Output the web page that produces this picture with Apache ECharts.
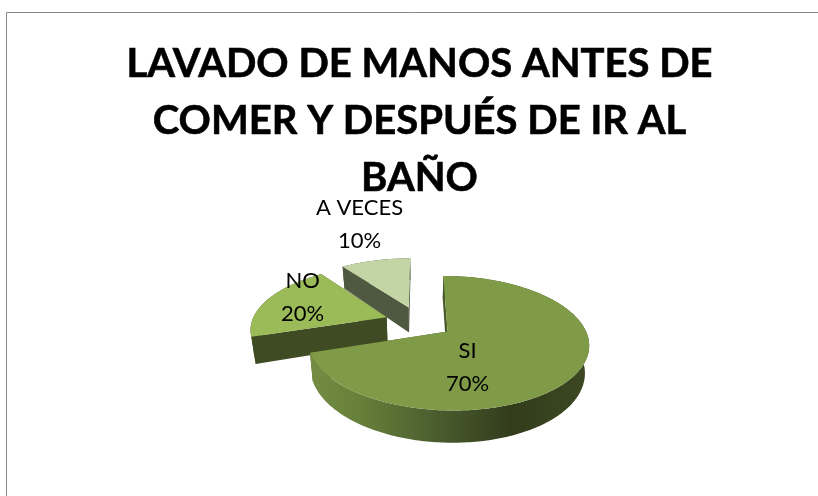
<!DOCTYPE html>
<html>
<head>
<meta charset="utf-8">
<style>html,body{margin:0;padding:0;background:#fff}#chart{width:818px;height:496px}</style>
<script src="https://cdn.jsdelivr.net/npm/echarts@6/dist/echarts.min.js"></script>
</head>
<body>
<div id="chart"></div>
<script>
// Hand-washing survey answers, shown as an exploded pie with perspective.
const categories = ['SI', 'NO', 'A VECES'];
const shares = [70, 20, 10];
const chartTitle = 'LAVADO DE MANOS ANTES DE\nCOMER Y DESPUÉS DE IR AL\nBAÑO';

// Per-slice face colours and label spots on the pie's ground plane (radius = 1).
const topColors = ['#7f9b48', '#9bbb59', '#c3d5a4'];
const sideColors = ['#4a5a28', '#3f4b22', '#4f5841'];
const labelSpots = [[0.32, -0.65], [-0.925, 0.43], [-0.60, 2.14]];

// Ground plane to screen projection.
const view = {ox: 419, oy: 322, sx: 135, sz: 62, persp: 0.169, depth: 26, taper: 0.025, explode: 0.255};

function project(x, z, lowered) {
  const f = 1 / (1 + view.persp * z);
  let px = view.ox + view.sx * x * f;
  let py = view.oy - view.sz * z * f;
  if (lowered) {
    px = view.ox + (px - view.ox) * (1 - view.taper);
    py += view.depth * f;
  }
  return [px, py];
}

const total = shares.reduce((a, b) => a + b, 0);

function renderSlice(params, api) {
  const i = params.dataIndex;
  let before = 0;
  for (let k = 0; k < i; k++) before += shares[k];
  const a0 = before / total * Math.PI * 2;
  const a1 = (before + api.value(0)) / total * Math.PI * 2;
  const mid = (a0 + a1) / 2;
  const cx = Math.sin(mid) * view.explode;
  const cz = Math.cos(mid) * view.explode;

  const rim = [];
  const steps = Math.ceil((a1 - a0) / (Math.PI / 180));
  for (let s = 0; s <= steps; s++) {
    const a = a0 + (a1 - a0) * s / steps;
    rim.push([cx + Math.sin(a), cz + Math.cos(a)]);
  }
  const topRim = rim.map(p => project(p[0], p[1], false));
  const lowRim = rim.map(p => project(p[0], p[1], true));
  const apexTop = project(cx, cz, false);
  const apexLow = project(cx, cz, true);
  const spot = project(labelSpots[i][0], labelSpots[i][1], false);

  // The big slice's curved wall fades from lit green on the left into shadow.
  const rimFill = i === 0 ? {
    type: 'linear', x: 0, y: 0, x2: 1, y2: 0,
    colorStops: [
      {offset: 0, color: '#748d42'},
      {offset: 0.18, color: '#66803a'},
      {offset: 0.42, color: '#4e6130'},
      {offset: 0.72, color: '#323c1c'},
      {offset: 1, color: '#3c4822'}
    ]
  } : sideColors[i];

  const faces = [
    {type: 'polygon', shape: {points: [apexTop, topRim[0], lowRim[0], apexLow]}, style: {fill: sideColors[i]}},
    {type: 'polygon', shape: {points: [apexTop, topRim[topRim.length - 1], lowRim[lowRim.length - 1], apexLow]}, style: {fill: sideColors[i]}},
    {type: 'polygon', shape: {points: topRim.concat(lowRim.slice().reverse())}, style: {fill: rimFill}},
    {type: 'polygon', shape: {points: [apexTop].concat(topRim)}, style: {fill: topColors[i]}},
    {
      type: 'text', z2: 10,
      style: {
        x: spot[0], y: spot[1],
        text: categories[i] + '\n' + Math.round(api.value(0) / total * 100) + '%',
        align: 'center', verticalAlign: 'middle',
        font: '22px Lato', lineHeight: 33, fill: '#000'
      }
    }
  ];
  return {type: 'group', children: faces};
}

// Slices are painted back to front so the big slice overlaps the others.
const paintOrder = [2, 1, 0];

const chart = echarts.init(document.getElementById('chart'), null, {renderer: 'canvas'});
chart.setOption({
  animation: false,
  backgroundColor: '#fff',
  title: {
    text: chartTitle,
    left: 414.5, top: 31, textAlign: 'center',
    textStyle: {
      fontFamily: 'Lato', fontWeight: 'bold', fontSize: 40, lineHeight: 57, color: '#000',
      textBorderColor: '#000', textBorderWidth: 0.6
    }
  },
  graphic: [{
    type: 'rect', silent: true,
    shape: {x: 6.5, y: 12.5, width: 900, height: 600},
    style: {fill: 'none', stroke: '#868686', lineWidth: 1}
  }],
  series: paintOrder.map(idx => ({
    type: 'custom',
    name: categories[idx],
    coordinateSystem: 'none',
    renderItem: (params, api) => renderSlice({dataIndex: idx}, api),
    data: [[shares[idx]]],
    silent: true
  }))
});
</script>
</body>
</html>
